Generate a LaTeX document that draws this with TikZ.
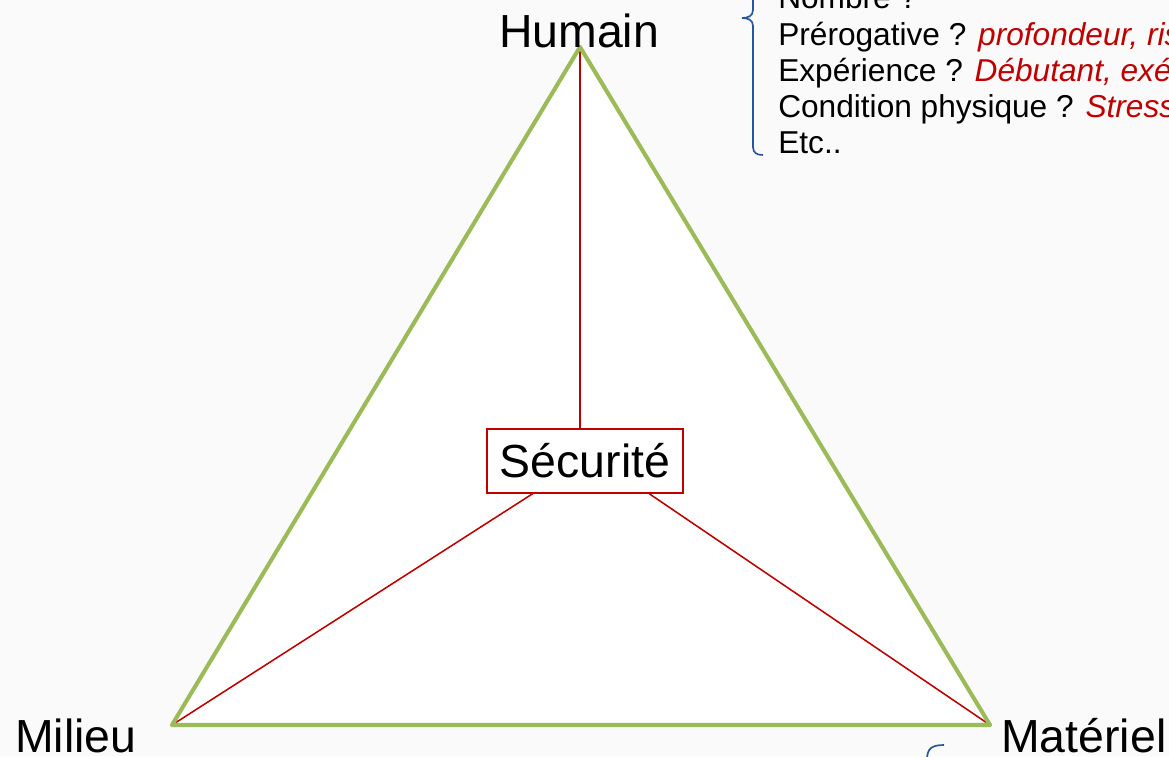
\documentclass[tikz,border=0pt]{standalone}
\usepackage{fontspec}
\setmainfont{Liberation Sans}
\definecolor{trigreen}{HTML}{9BBB59}
\definecolor{secred}{HTML}{C00000}
\definecolor{braceblue}{HTML}{2556A0}
\begin{document}
\begin{tikzpicture}[x=0.025cm,y=-0.025cm,
  bigtext/.style={font=\fontsize{33}{40}\selectfont, inner sep=0},
  listtext/.style={font=\fontsize{22.5}{27}\selectfont, anchor=base west, inner sep=0},
  redline/.style={secred, line width=1.1pt},
  securbox/.style={draw=secred, line width=1.1pt, fill=white, minimum width=4.9cm, minimum height=1.6cm, inner sep=0, font=\fontsize{33}{40}\selectfont}]
\useasboundingbox (0,0) rectangle (1169,756);
\clip (0,0) rectangle (1169,756);
\fill[black!2] (0,0) rectangle (1169,756);
% sommets du triangle
\coordinate (H) at (580,47);
\coordinate (M) at (172,725);
\coordinate (T) at (990,725);
\fill[white] (H)--(M)--(T)--cycle;
% liaisons vers la securite
\node[securbox] (secu) at (585,461) {Sécurité};
\draw[redline] (H) -- (H |- secu.north);
\draw[redline] (M) -- (secu.-148);
\draw[redline] (T) -- (secu.-27);
\draw[trigreen, line width=2.9pt, line join=round] (H)--(M)--(T)--cycle;
% etiquettes
\node[bigtext, anchor=base] (hum) at (579,47) {Humain};
\node[bigtext, anchor=base west] (mil) at (15,752) {Milieu};
\node[bigtext, anchor=base west] (mat) at (1001,752) {Matériel};
% liste du facteur humain
\node[listtext] (l1) at (778,9) {Nombre ?};
\node[listtext] (l2) at (778,45) {Prérogative ? \textcolor{secred}{\itshape profondeur, ris}};
\node[listtext] (l3) at (778,81) {Expérience ? \textcolor{secred}{\itshape Débutant, exé}};
\node[listtext] (l4) at (778,117) {Condition physique ? \textcolor{secred}{\itshape Stress}};
\node[listtext] (l5) at (778,153) {Etc..};
\draw[braceblue, line width=1.2pt] (753,-20) -- (753,10) .. controls (753,16) and (748,18) .. (742,18)
  .. controls (748,18) and (753,20) .. (753,26) -- (753,147) .. controls (753,153) and (757,155) .. (763,155);
\draw[braceblue, line width=1.2pt] (944,745) .. controls (931,745) and (927,749) .. (927,760);
\end{tikzpicture}
\end{document}
